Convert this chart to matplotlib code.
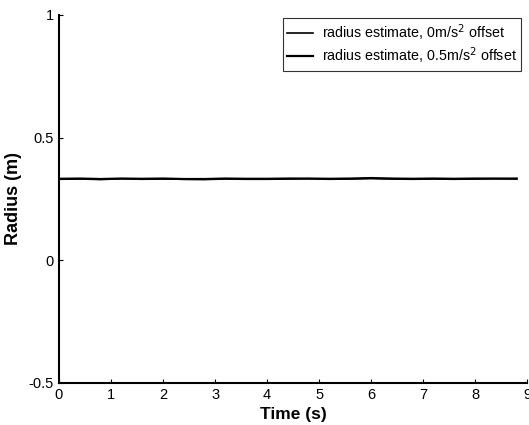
import matplotlib
matplotlib.use("Agg")
import matplotlib.pyplot as plt

plt.rcParams['font.family'] = ['Liberation Sans', 'DejaVu Sans']

# time samples (s)
time_s = [0.0, 0.4, 0.8, 1.2, 1.6, 2.0, 2.4, 2.8, 3.2, 3.6, 4.0, 4.4,
          4.8, 5.2, 5.6, 6.0, 6.4, 6.8, 7.2, 7.6, 8.0, 8.4, 8.8]
# radius estimate with 0 m/s^2 offset
radius_0 = [0.330, 0.331, 0.329, 0.332, 0.330, 0.331, 0.330, 0.329, 0.331, 0.330, 0.330, 0.331,
            0.332, 0.330, 0.331, 0.333, 0.331, 0.330, 0.331, 0.330, 0.331, 0.332, 0.331]
# radius estimate with 0.5 m/s^2 offset
radius_05 = [0.332, 0.333, 0.331, 0.333, 0.332, 0.333, 0.331, 0.331, 0.333, 0.332, 0.332, 0.333,
             0.333, 0.332, 0.333, 0.335, 0.333, 0.332, 0.333, 0.332, 0.333, 0.333, 0.333]

xticks = [0, 1, 2, 3, 4, 5, 6, 7, 8, 9]
yticks = [-0.5, 0, 0.5, 1]
ytick_labels = ['-0.5', '0', '0.5', '1']

fig = plt.figure(figsize=(5.29, 4.25), dpi=100)
ax = fig.add_axes([0.1115, 0.099, 0.885, 0.866])

ax.plot(time_s, radius_0, color='black', lw=1.2,
        label=r'radius estimate, 0m/s$^2$ offset')
ax.plot(time_s, radius_05, color='black', lw=1.6,
        label=r'radius estimate, 0.5m/s$^2$ offset')

ax.set_xlim(0, 9)
ax.set_ylim(-0.5, 1)
ax.set_xticks(xticks)
ax.set_yticks(yticks)
ax.set_yticklabels(ytick_labels)
ax.tick_params(direction='in', length=3, labelsize=10.5, width=0.8)

ax.spines['top'].set_visible(False)
ax.spines['right'].set_visible(False)
ax.spines['left'].set_linewidth(1.5)
ax.spines['bottom'].set_linewidth(1.5)

ax.set_xlabel('Time (s)', fontsize=12.5, fontweight='bold', labelpad=4)
ax.set_ylabel('Radius (m)', fontsize=13, fontweight='bold', labelpad=5)

leg = ax.legend(loc='upper right', bbox_to_anchor=(521 / 529, 1 - 18 / 425),
                bbox_transform=fig.transFigure, fontsize=10.3, fancybox=False,
                edgecolor='black', handlelength=1.8, handletextpad=0.6,
                borderpad=0.3, labelspacing=0.2, borderaxespad=0)
leg.get_frame().set_linewidth(0.8)

fig.savefig('out.png', dpi=100)
